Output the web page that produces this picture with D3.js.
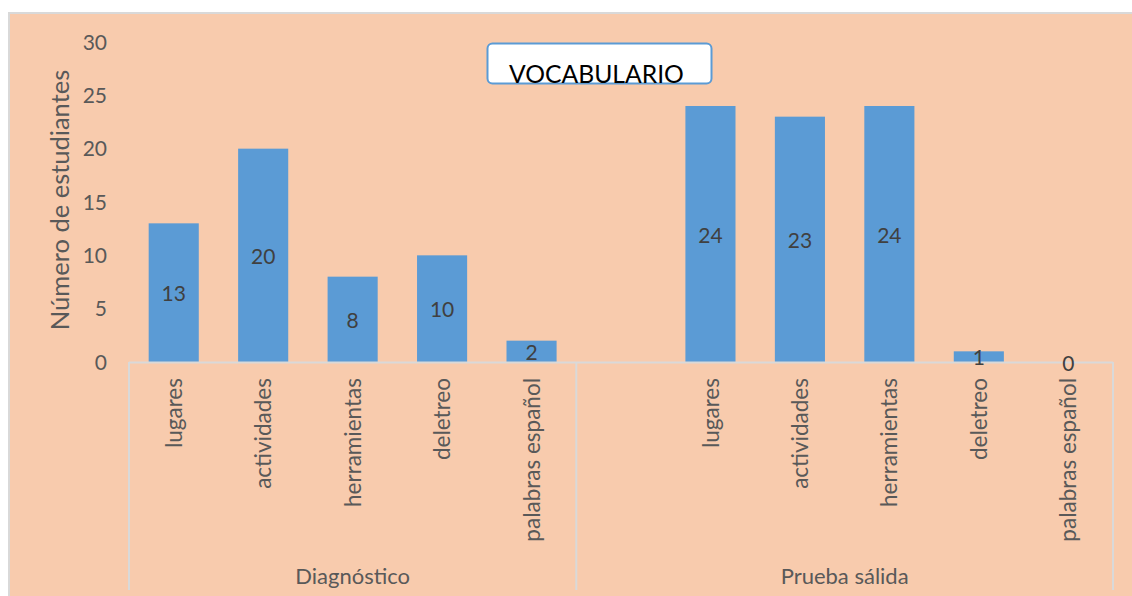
<!DOCTYPE html>
<html>
<head>
<meta charset="utf-8">
<script src="https://cdn.jsdelivr.net/npm/d3@7"></script>
<style>
  body { margin: 0; background: #fff; }
  text { font-family: Lato, "Open Sans", sans-serif; }
</style>
</head>
<body>
<script>
// chart values
var groups = ["Diagnóstico", "Prueba sálida"];
var categories = ["lugares", "actividades", "herramientas", "deletreo", "palabras español"];
var diagnostico = [13, 20, 8, 10, 2];
var pruebaSalida = [24, 23, 24, 1, 0];
var yTicks = [0, 5, 10, 15, 20, 25, 30];

var W = 1132, H = 596;
var margin = { top: 42, right: 19, bottom: 234, left: 129 };

// flatten to slots; second group has an empty leading slot
var rows = [];
categories.forEach(function (c, i) { rows.push({ key: "g0-" + i, group: 0, cat: c, value: diagnostico[i] }); });
rows.push({ key: "g1-blank", group: 1, cat: "", value: null });
categories.forEach(function (c, i) { rows.push({ key: "g1-" + i, group: 1, cat: c, value: pruebaSalida[i] }); });

var svg = d3.select("body").append("svg")
    .attr("width", W)
    .attr("height", H);

// chart area background
svg.append("rect")
    .attr("x", 9).attr("y", 13)
    .attr("width", W).attr("height", H)
    .attr("fill", "#F8CBAD")
    .attr("stroke", "#D9D9D9")
    .attr("stroke-width", 2);

var x = d3.scaleBand()
    .domain(rows.map(function (d) { return d.key; }))
    .range([margin.left, W - margin.right])
    .paddingInner(0.44)
    .paddingOuter(0.22);

var y = d3.scaleLinear()
    .domain([0, 30])
    .range([H - margin.bottom, margin.top]);

var step = x.step();
var axisY = y(0);

// y tick labels
svg.append("g").selectAll("text")
    .data(yTicks)
    .enter().append("text")
    .attr("x", 107)
    .attr("y", function (d) { return y(d); })
    .attr("dy", "0.36em")
    .attr("text-anchor", "end")
    .attr("fill", "#595959")
    .style("font-size", "21px")
    .text(function (d) { return d; });

// y axis title
svg.append("text")
    .attr("transform", "translate(69," + (y(15) - 2) + ") rotate(-90)")
    .attr("text-anchor", "middle")
    .attr("fill", "#595959")
    .style("font-size", "25.5px")
    .text("Número de estudiantes");

// bars
svg.append("g").selectAll("rect")
    .data(rows.filter(function (d) { return d.value !== null; }))
    .enter().append("rect")
    .attr("x", function (d) { return x(d.key); })
    .attr("y", function (d) { return y(d.value); })
    .attr("width", x.bandwidth())
    .attr("height", function (d) { return y(0) - y(d.value); })
    .attr("fill", "#5B9BD5");

// category axis lines
var lineColor = "#D9D9D9";
var left = margin.left, right = W - margin.right;
var sep = margin.left + 5 * step; // boundary between groups

svg.append("line")
    .attr("x1", left).attr("x2", right)
    .attr("y1", axisY + 0.5).attr("y2", axisY + 0.5)
    .attr("stroke", lineColor).attr("stroke-width", 2);

[left, sep, right].forEach(function (lx) {
    svg.append("line")
        .attr("x1", lx).attr("x2", lx)
        .attr("y1", axisY).attr("y2", 590)
        .attr("stroke", lineColor).attr("stroke-width", 2);
});

// data labels (centered in bar)
svg.append("g").selectAll("text")
    .data(rows.filter(function (d) { return d.value !== null; }))
    .enter().append("text")
    .attr("x", function (d) { return x(d.key) + x.bandwidth() / 2; })
    .attr("y", function (d) { return (y(d.value) + y(0)) / 2 + 1; })
    .attr("dy", "0.36em")
    .attr("text-anchor", "middle")
    .attr("fill", "#404040")
    .style("font-size", "21px")
    .text(function (d) { return d.value; });

// category labels, rotated
svg.append("g").selectAll("text")
    .data(rows.filter(function (d) { return d.cat !== ""; }))
    .enter().append("text")
    .attr("transform", function (d) {
        return "translate(" + (x(d.key) + x.bandwidth() / 2) + "," + (axisY + 16) + ") rotate(-90)";
    })
    .attr("dy", "0.36em")
    .attr("text-anchor", "end")
    .attr("fill", "#595959")
    .style("font-size", "22.5px")
    .text(function (d) { return d.cat; });

// group labels
svg.append("g").selectAll("text")
    .data(groups)
    .enter().append("text")
    .attr("x", function (d, i) { return i === 0 ? (left + sep) / 2 : (sep + right) / 2; })
    .attr("y", 576)
    .attr("dy", "0.36em")
    .attr("text-anchor", "middle")
    .attr("fill", "#595959")
    .style("font-size", "22px")
    .text(function (d) { return d; });

// title box
svg.append("rect")
    .attr("x", 487.5).attr("y", 43.5)
    .attr("width", 224).attr("height", 40)
    .attr("rx", 5)
    .attr("fill", "#fff")
    .attr("stroke", "#5B9BD5")
    .attr("stroke-width", 2);

svg.append("text")
    .attr("x", 509)
    .attr("y", 83)
    .attr("fill", "#000")
    .style("font-size", "24.7px")
    .text("VOCABULARIO");
</script>
</body>
</html>
